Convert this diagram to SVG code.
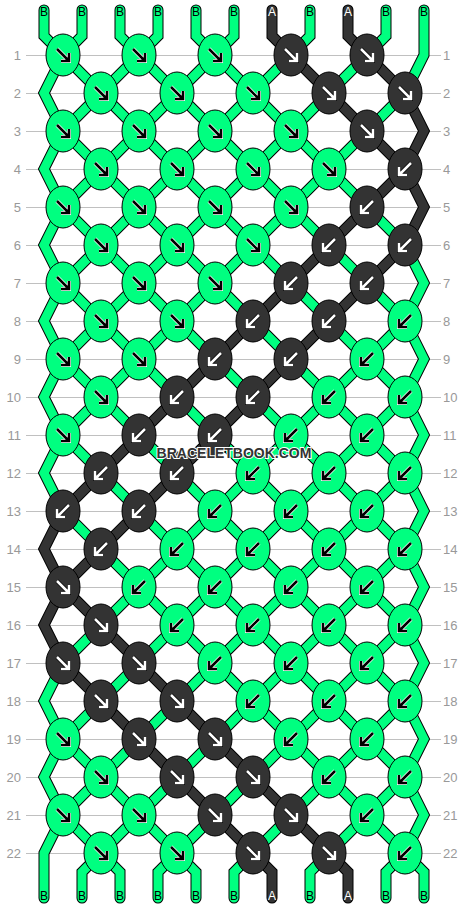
<svg xmlns="http://www.w3.org/2000/svg" xmlns:xlink="http://www.w3.org/1999/xlink" width="468" height="908" viewBox="0 0 468 908">
<style>
.grid line{stroke:#c0c0c0;stroke-width:1;shape-rendering:crispEdges}
.rl{font-family:"Liberation Sans",Arial,sans-serif;font-size:13px;fill:#999}
.rl.l{text-anchor:end}
.s{fill:none;stroke-linejoin:miter;stroke-linecap:round}
.o{stroke:#000;stroke-width:11}
.cg{stroke:#00ff80;stroke-width:9}
.cd{stroke:#333;stroke-width:9}
.kg{fill:#00ff80;stroke:#000;stroke-width:1}
.kd{fill:#333;stroke:#000;stroke-width:1}
.ah{fill:none;stroke-width:4}
.aa{fill:none;stroke-width:2.6}
.lb{font-family:"Liberation Sans",Arial,sans-serif;font-size:12px;text-anchor:middle}
.lb.b{fill:#000}
.lb.a{fill:#fff}
.wm{font-family:"Liberation Sans",Arial,sans-serif;font-weight:bold;font-size:14px;fill:#333;stroke:#fff;stroke-width:2;paint-order:stroke;text-anchor:middle}
</style>
<defs>
<path id="ar" d="M-6,-6L6,6M-2,6H6V-2"/>
<path id="al" d="M6,-6L-6,6M2,6H-6V-2"/>
<g id="Gr"><ellipse class="kg" rx="17" ry="21"/><use href="#ar" class="ah" stroke="#fff"/><use href="#ar" class="aa" stroke="#000"/></g>
<g id="Gl"><ellipse class="kg" rx="17" ry="21"/><use href="#al" class="ah" stroke="#fff"/><use href="#al" class="aa" stroke="#000"/></g>
<g id="Dr"><ellipse class="kd" rx="17" ry="21"/><use href="#ar" class="ah" stroke="#000"/><use href="#ar" class="aa" stroke="#fff"/></g>
<g id="Dl"><ellipse class="kd" rx="17" ry="21"/><use href="#al" class="ah" stroke="#000"/><use href="#al" class="aa" stroke="#fff"/></g>
<path id="s1" d="M44,10V36L63,55L405,397L424,435L405,473L63,815L44,853V898"/>
<path id="s2" d="M82,10V36L63,55L44,93L63,131L405,473L424,511L405,549L101,853L82,872V898"/>
<path id="s3" d="M120,10V36L139,55L405,321L424,359L405,397L63,739L44,777L63,815L101,853L120,872V898"/>
<path id="s4" d="M158,10V36L139,55L63,131L44,169L63,207L405,549L424,587L405,625L177,853L158,872V898"/>
<path id="s5" d="M196,10V36L215,55L405,245L424,283L405,321L63,663L44,701L63,739L177,853L196,872V898"/>
<path id="s6" d="M234,10V36L215,55L63,207L44,245L63,283L405,625L424,663L405,701L253,853L234,872V898"/>
<path id="s7" d="M272,10V36L291,55L405,169L424,207L405,245L63,587L44,625L63,663L253,853L272,872V898"/>
<path id="s8" d="M310,10V36L291,55L63,283L44,321L63,359L405,701L424,739L405,777L329,853L310,872V898"/>
<path id="s9" d="M348,10V36L367,55L405,93L424,131L405,169L63,511L44,549L63,587L329,853L348,872V898"/>
<path id="s10" d="M386,10V36L367,55L63,359L44,397L63,435L405,777L424,815L405,853L386,872V898"/>
<path id="s11" d="M424,10V55L405,93L63,435L44,473L63,511L405,853L424,872V898"/>
</defs>
<rect width="468" height="908" fill="#fff"/>
<g class="grid">
<line x1="26" y1="55" x2="441" y2="55"/><line x1="26" y1="93" x2="441" y2="93"/><line x1="26" y1="131" x2="441" y2="131"/><line x1="26" y1="169" x2="441" y2="169"/><line x1="26" y1="207" x2="441" y2="207"/><line x1="26" y1="245" x2="441" y2="245"/><line x1="26" y1="283" x2="441" y2="283"/><line x1="26" y1="321" x2="441" y2="321"/><line x1="26" y1="359" x2="441" y2="359"/><line x1="26" y1="397" x2="441" y2="397"/><line x1="26" y1="435" x2="441" y2="435"/><line x1="26" y1="473" x2="441" y2="473"/><line x1="26" y1="511" x2="441" y2="511"/><line x1="26" y1="549" x2="441" y2="549"/><line x1="26" y1="587" x2="441" y2="587"/><line x1="26" y1="625" x2="441" y2="625"/><line x1="26" y1="663" x2="441" y2="663"/><line x1="26" y1="701" x2="441" y2="701"/><line x1="26" y1="739" x2="441" y2="739"/><line x1="26" y1="777" x2="441" y2="777"/><line x1="26" y1="815" x2="441" y2="815"/><line x1="26" y1="853" x2="441" y2="853"/>
</g>
<g id="row-labels">
<text class="rl l" x="21" y="60">1</text><text class="rl l" x="21" y="98">2</text><text class="rl l" x="21" y="136">3</text><text class="rl l" x="21" y="174">4</text><text class="rl l" x="21" y="212">5</text><text class="rl l" x="21" y="250">6</text><text class="rl l" x="21" y="288">7</text><text class="rl l" x="21" y="326">8</text><text class="rl l" x="21" y="364">9</text><text class="rl l" x="21" y="402">10</text><text class="rl l" x="21" y="440">11</text><text class="rl l" x="21" y="478">12</text><text class="rl l" x="21" y="516">13</text><text class="rl l" x="21" y="554">14</text><text class="rl l" x="21" y="592">15</text><text class="rl l" x="21" y="630">16</text><text class="rl l" x="21" y="668">17</text><text class="rl l" x="21" y="706">18</text><text class="rl l" x="21" y="744">19</text><text class="rl l" x="21" y="782">20</text><text class="rl l" x="21" y="820">21</text><text class="rl l" x="21" y="858">22</text>
<text class="rl" x="443" y="60">1</text><text class="rl" x="443" y="98">2</text><text class="rl" x="443" y="136">3</text><text class="rl" x="443" y="174">4</text><text class="rl" x="443" y="212">5</text><text class="rl" x="443" y="250">6</text><text class="rl" x="443" y="288">7</text><text class="rl" x="443" y="326">8</text><text class="rl" x="443" y="364">9</text><text class="rl" x="443" y="402">10</text><text class="rl" x="443" y="440">11</text><text class="rl" x="443" y="478">12</text><text class="rl" x="443" y="516">13</text><text class="rl" x="443" y="554">14</text><text class="rl" x="443" y="592">15</text><text class="rl" x="443" y="630">16</text><text class="rl" x="443" y="668">17</text><text class="rl" x="443" y="706">18</text><text class="rl" x="443" y="744">19</text><text class="rl" x="443" y="782">20</text><text class="rl" x="443" y="820">21</text><text class="rl" x="443" y="858">22</text>
</g>
<g id="connectors">
<g class="s o"><use href="#s1"/><use href="#s2"/><use href="#s3"/><use href="#s4"/><use href="#s5"/><use href="#s6"/><use href="#s7"/><use href="#s8"/><use href="#s9"/><use href="#s10"/><use href="#s11"/></g>
<g class="s cg"><use href="#s1"/><use href="#s2"/><use href="#s3"/><use href="#s4"/><use href="#s5"/><use href="#s6"/><use href="#s8"/><use href="#s10"/><use href="#s11"/></g>
<g class="s cd"><use href="#s7"/><use href="#s9"/></g>
</g>
<g id="string-labels">
<text class="lb b" x="44" y="16">B</text><text class="lb b" x="82" y="16">B</text><text class="lb b" x="120" y="16">B</text><text class="lb b" x="158" y="16">B</text><text class="lb b" x="196" y="16">B</text><text class="lb b" x="234" y="16">B</text><text class="lb a" x="272" y="16">A</text><text class="lb b" x="310" y="16">B</text><text class="lb a" x="348" y="16">A</text><text class="lb b" x="386" y="16">B</text><text class="lb b" x="424" y="16">B</text>
<text class="lb b" x="44" y="900">B</text><text class="lb b" x="82" y="900">B</text><text class="lb b" x="120" y="900">B</text><text class="lb b" x="158" y="900">B</text><text class="lb b" x="196" y="900">B</text><text class="lb b" x="234" y="900">B</text><text class="lb a" x="272" y="900">A</text><text class="lb b" x="310" y="900">B</text><text class="lb a" x="348" y="900">A</text><text class="lb b" x="386" y="900">B</text><text class="lb b" x="424" y="900">B</text>
</g>
<g id="knots">
<g id="k1-1"><use href="#Gr" x="63" y="55"/></g><g id="k1-2"><use href="#Gr" x="139" y="55"/></g><g id="k1-3"><use href="#Gr" x="215" y="55"/></g><g id="k1-4"><use href="#Dr" x="291" y="55"/></g><g id="k1-5"><use href="#Dr" x="367" y="55"/></g>
<g id="k2-1"><use href="#Gr" x="101" y="93"/></g><g id="k2-2"><use href="#Gr" x="177" y="93"/></g><g id="k2-3"><use href="#Gr" x="253" y="93"/></g><g id="k2-4"><use href="#Dr" x="329" y="93"/></g><g id="k2-5"><use href="#Dr" x="405" y="93"/></g>
<g id="k3-1"><use href="#Gr" x="63" y="131"/></g><g id="k3-2"><use href="#Gr" x="139" y="131"/></g><g id="k3-3"><use href="#Gr" x="215" y="131"/></g><g id="k3-4"><use href="#Gr" x="291" y="131"/></g><g id="k3-5"><use href="#Dr" x="367" y="131"/></g>
<g id="k4-1"><use href="#Gr" x="101" y="169"/></g><g id="k4-2"><use href="#Gr" x="177" y="169"/></g><g id="k4-3"><use href="#Gr" x="253" y="169"/></g><g id="k4-4"><use href="#Gr" x="329" y="169"/></g><g id="k4-5"><use href="#Dl" x="405" y="169"/></g>
<g id="k5-1"><use href="#Gr" x="63" y="207"/></g><g id="k5-2"><use href="#Gr" x="139" y="207"/></g><g id="k5-3"><use href="#Gr" x="215" y="207"/></g><g id="k5-4"><use href="#Gr" x="291" y="207"/></g><g id="k5-5"><use href="#Dl" x="367" y="207"/></g>
<g id="k6-1"><use href="#Gr" x="101" y="245"/></g><g id="k6-2"><use href="#Gr" x="177" y="245"/></g><g id="k6-3"><use href="#Gr" x="253" y="245"/></g><g id="k6-4"><use href="#Dl" x="329" y="245"/></g><g id="k6-5"><use href="#Dl" x="405" y="245"/></g>
<g id="k7-1"><use href="#Gr" x="63" y="283"/></g><g id="k7-2"><use href="#Gr" x="139" y="283"/></g><g id="k7-3"><use href="#Gr" x="215" y="283"/></g><g id="k7-4"><use href="#Dl" x="291" y="283"/></g><g id="k7-5"><use href="#Dl" x="367" y="283"/></g>
<g id="k8-1"><use href="#Gr" x="101" y="321"/></g><g id="k8-2"><use href="#Gr" x="177" y="321"/></g><g id="k8-3"><use href="#Dl" x="253" y="321"/></g><g id="k8-4"><use href="#Dl" x="329" y="321"/></g><g id="k8-5"><use href="#Gl" x="405" y="321"/></g>
<g id="k9-1"><use href="#Gr" x="63" y="359"/></g><g id="k9-2"><use href="#Gr" x="139" y="359"/></g><g id="k9-3"><use href="#Dl" x="215" y="359"/></g><g id="k9-4"><use href="#Dl" x="291" y="359"/></g><g id="k9-5"><use href="#Gl" x="367" y="359"/></g>
<g id="k10-1"><use href="#Gr" x="101" y="397"/></g><g id="k10-2"><use href="#Dl" x="177" y="397"/></g><g id="k10-3"><use href="#Dl" x="253" y="397"/></g><g id="k10-4"><use href="#Gl" x="329" y="397"/></g><g id="k10-5"><use href="#Gl" x="405" y="397"/></g>
<g id="k11-1"><use href="#Gr" x="63" y="435"/></g><g id="k11-2"><use href="#Dl" x="139" y="435"/></g><g id="k11-3"><use href="#Dl" x="215" y="435"/></g><g id="k11-4"><use href="#Gl" x="291" y="435"/></g><g id="k11-5"><use href="#Gl" x="367" y="435"/></g>
<g id="k12-1"><use href="#Dl" x="101" y="473"/></g><g id="k12-2"><use href="#Dl" x="177" y="473"/></g><g id="k12-3"><use href="#Gl" x="253" y="473"/></g><g id="k12-4"><use href="#Gl" x="329" y="473"/></g><g id="k12-5"><use href="#Gl" x="405" y="473"/></g>
<g id="k13-1"><use href="#Dl" x="63" y="511"/></g><g id="k13-2"><use href="#Dl" x="139" y="511"/></g><g id="k13-3"><use href="#Gl" x="215" y="511"/></g><g id="k13-4"><use href="#Gl" x="291" y="511"/></g><g id="k13-5"><use href="#Gl" x="367" y="511"/></g>
<g id="k14-1"><use href="#Dl" x="101" y="549"/></g><g id="k14-2"><use href="#Gl" x="177" y="549"/></g><g id="k14-3"><use href="#Gl" x="253" y="549"/></g><g id="k14-4"><use href="#Gl" x="329" y="549"/></g><g id="k14-5"><use href="#Gl" x="405" y="549"/></g>
<g id="k15-1"><use href="#Dr" x="63" y="587"/></g><g id="k15-2"><use href="#Gl" x="139" y="587"/></g><g id="k15-3"><use href="#Gl" x="215" y="587"/></g><g id="k15-4"><use href="#Gl" x="291" y="587"/></g><g id="k15-5"><use href="#Gl" x="367" y="587"/></g>
<g id="k16-1"><use href="#Dr" x="101" y="625"/></g><g id="k16-2"><use href="#Gl" x="177" y="625"/></g><g id="k16-3"><use href="#Gl" x="253" y="625"/></g><g id="k16-4"><use href="#Gl" x="329" y="625"/></g><g id="k16-5"><use href="#Gl" x="405" y="625"/></g>
<g id="k17-1"><use href="#Dr" x="63" y="663"/></g><g id="k17-2"><use href="#Dr" x="139" y="663"/></g><g id="k17-3"><use href="#Gl" x="215" y="663"/></g><g id="k17-4"><use href="#Gl" x="291" y="663"/></g><g id="k17-5"><use href="#Gl" x="367" y="663"/></g>
<g id="k18-1"><use href="#Dr" x="101" y="701"/></g><g id="k18-2"><use href="#Dr" x="177" y="701"/></g><g id="k18-3"><use href="#Gl" x="253" y="701"/></g><g id="k18-4"><use href="#Gl" x="329" y="701"/></g><g id="k18-5"><use href="#Gl" x="405" y="701"/></g>
<g id="k19-1"><use href="#Gr" x="63" y="739"/></g><g id="k19-2"><use href="#Dr" x="139" y="739"/></g><g id="k19-3"><use href="#Dr" x="215" y="739"/></g><g id="k19-4"><use href="#Gl" x="291" y="739"/></g><g id="k19-5"><use href="#Gl" x="367" y="739"/></g>
<g id="k20-1"><use href="#Gr" x="101" y="777"/></g><g id="k20-2"><use href="#Dr" x="177" y="777"/></g><g id="k20-3"><use href="#Dr" x="253" y="777"/></g><g id="k20-4"><use href="#Gl" x="329" y="777"/></g><g id="k20-5"><use href="#Gl" x="405" y="777"/></g>
<g id="k21-1"><use href="#Gr" x="63" y="815"/></g><g id="k21-2"><use href="#Gr" x="139" y="815"/></g><g id="k21-3"><use href="#Dr" x="215" y="815"/></g><g id="k21-4"><use href="#Dr" x="291" y="815"/></g><g id="k21-5"><use href="#Gl" x="367" y="815"/></g>
<g id="k22-1"><use href="#Gr" x="101" y="853"/></g><g id="k22-2"><use href="#Gr" x="177" y="853"/></g><g id="k22-3"><use href="#Dr" x="253" y="853"/></g><g id="k22-4"><use href="#Dr" x="329" y="853"/></g><g id="k22-5"><use href="#Gl" x="405" y="853"/></g>
</g>
<text class="wm" x="234" y="458">BRACELETBOOK.COM</text>
</svg>
